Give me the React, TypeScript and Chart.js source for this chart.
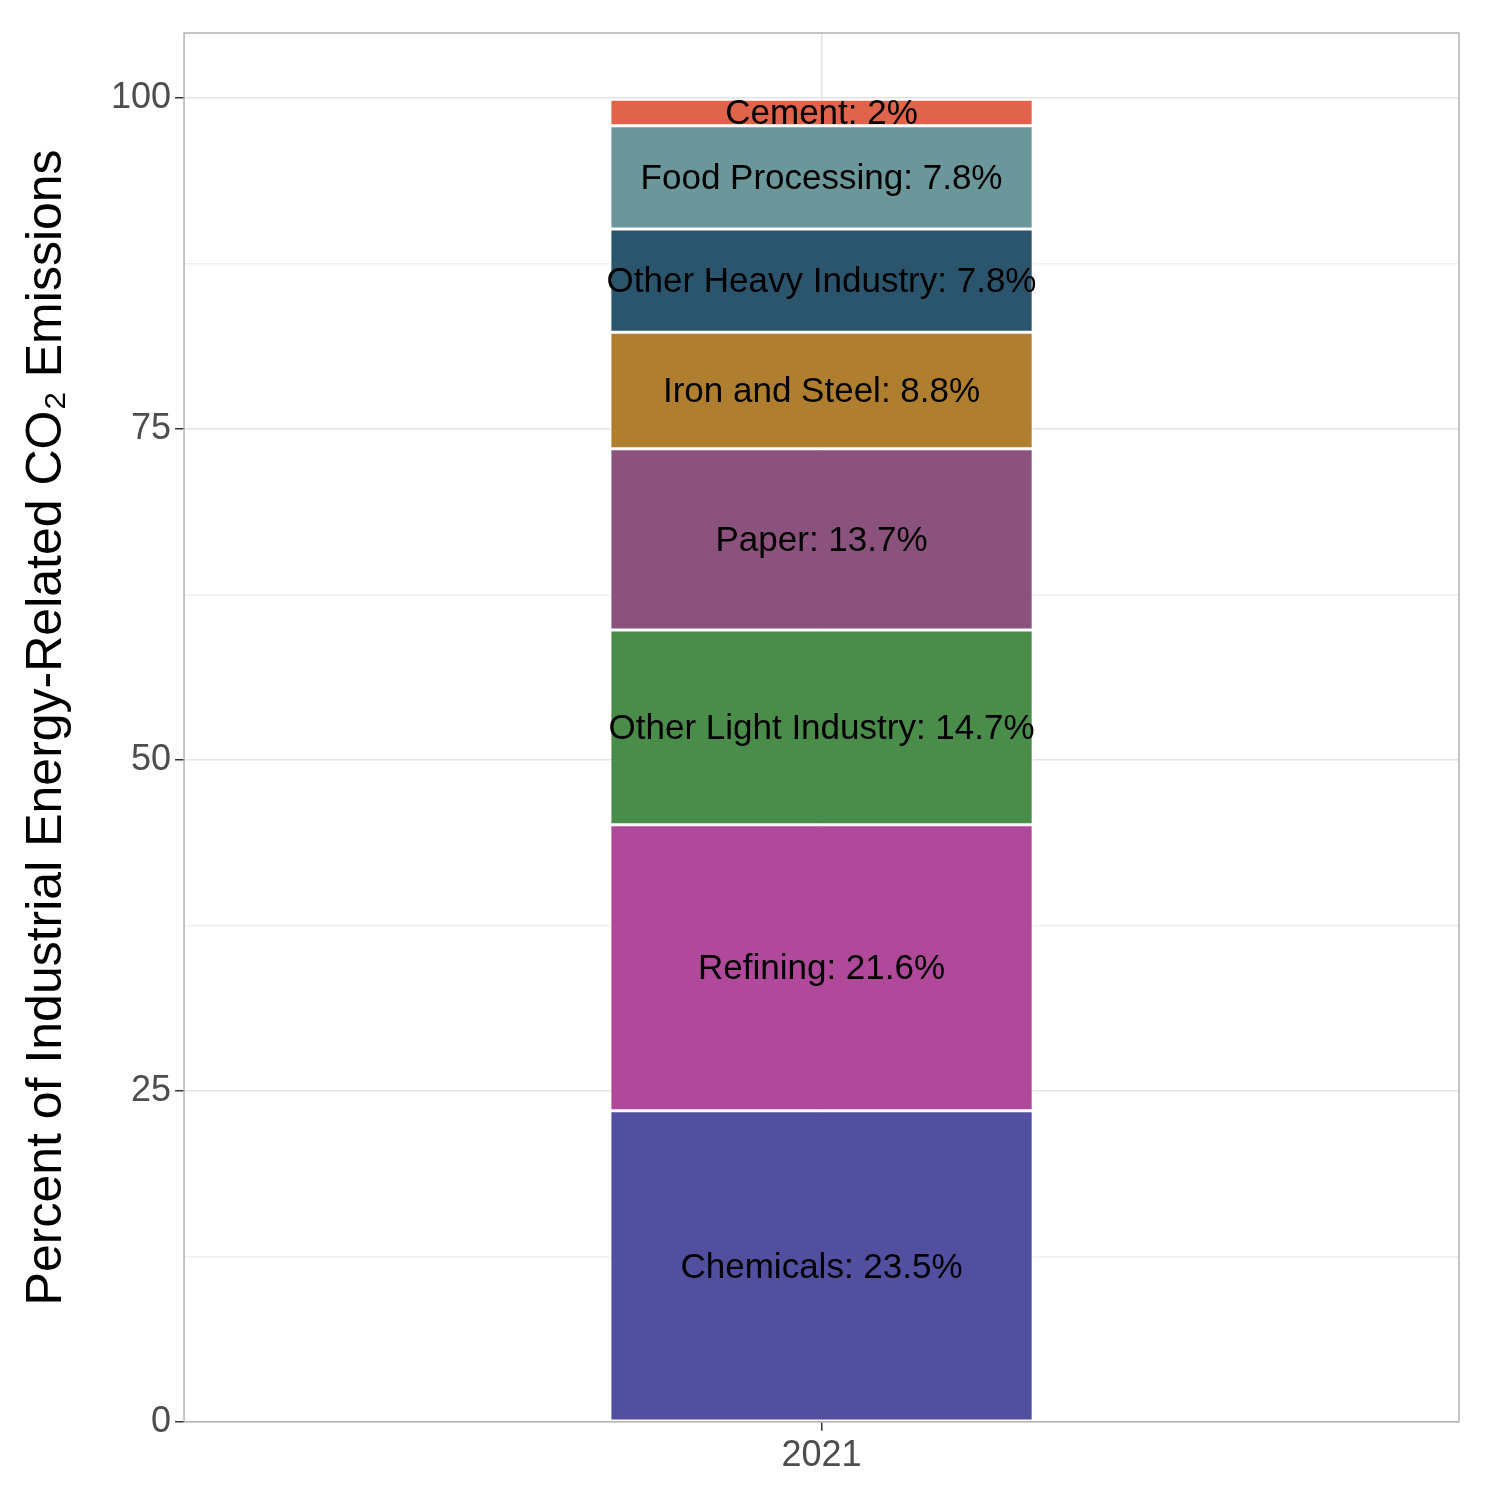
import React, { useEffect, useRef } from "react";
import { Chart, registerables } from "chart.js";
Chart.register(...registerables);

const categories = ["2021"];
const sectors = ["Chemicals", "Refining", "Other Light Industry", "Paper", "Iron and Steel", "Other Heavy Industry", "Food Processing", "Cement"];
const values = [23.5, 21.6, 14.7, 13.7, 8.8, 7.8, 7.8, 2];
const colors = ["#524FA1", "#B0499A", "#4A8C4A", "#8B527D", "#AF7F2F", "#2A556D", "#6B969A", "#E0644B"];
const yTicks = [0, 25, 50, 75, 100];

const FONT = "'Liberation Sans', Arial, sans-serif";

const labelPlugin = {
  id: "segLabels",
  afterDatasetsDraw(chart: any) {
    const ctx = chart.ctx;
    ctx.save();
    ctx.font = `35px ${FONT}`;
    ctx.fillStyle = "#000";
    ctx.textAlign = "center";
    ctx.textBaseline = "middle";
    chart.data.datasets.forEach((ds: any, i: number) => {
      const meta = chart.getDatasetMeta(i);
      meta.data.forEach((bar: any) => {
        const { x, y, base } = bar.getProps(["x", "y", "base"], true);
        ctx.fillText(`${ds.label}: ${ds.data[0]}%`, x, (y + base) / 2 + 2);
      });
    });
    ctx.restore();
  },
};

const borderPlugin = {
  id: "panelBorder",
  afterDraw(chart: any) {
    const { ctx, chartArea: a } = chart;
    ctx.save();
    ctx.strokeStyle = "#b3b3b3";
    ctx.lineWidth = 1.5;
    ctx.strokeRect(a.left, a.top, a.right - a.left, a.bottom - a.top);
    ctx.restore();
  },
};

export default function App() {
  const ref = useRef<HTMLCanvasElement>(null);
  useEffect(() => {
    document.body.style.margin = "0";
    const chart = new Chart(ref.current!, {
      type: "bar",
      data: {
        labels: categories,
        datasets: sectors.map((s, i) => ({
          label: s,
          data: [values[i]],
          backgroundColor: colors[i],
          borderColor: "#ffffff",
          borderWidth: 1.5,
          borderSkipped: false,
          barPercentage: 1,
          categoryPercentage: 0.332,
        })),
      },
      options: {
        animation: false,
        responsive: false,
        maintainAspectRatio: false,
        layout: { padding: { left: 17, right: 41, top: 33, bottom: 18 } },
        plugins: { legend: { display: false }, tooltip: { enabled: false } },
        scales: {
          x: {
            stacked: true,
            border: { display: false },
            grid: {
              offset: false,
              color: "#e3e3e3",
              lineWidth: 1.5,
              tickLength: 9,
              tickColor: "#333",
            },
            ticks: { color: "#4d4d4d", font: { family: FONT, size: 36 }, padding: 4 },
          },
          y: {
            stacked: true,
            min: 0,
            max: 104.9,
            border: { display: false },
            afterBuildTicks: (axis: any) => {
              const t: any[] = [];
              for (let v = 0; v <= 100; v += 12.5) t.push({ value: v });
              axis.ticks = t;
            },
            grid: {
              color: (c: any) => (yTicks.includes(c.tick?.value) ? "#e3e3e3" : "#f0f0f0"),
              lineWidth: 1.5,
              tickLength: 9,
              tickColor: (c: any) => (yTicks.includes(c.tick?.value) ? "#333" : "rgba(0,0,0,0)"),
            },
            ticks: {
              color: "#4d4d4d",
              font: { family: FONT, size: 36 },
              padding: 4,
              autoSkip: false,
              callback: (v: any) => (yTicks.includes(v) ? String(v) : ""),
            },
            title: {
              display: true,
              text: "Percent of Industrial Energy-Related CO₂ Emissions",
              color: "#000",
              font: { family: FONT, size: 50 },
              padding: { top: 0, bottom: 30 },
            },
          },
        },
      },
      plugins: [labelPlugin, borderPlugin],
    });
    return () => chart.destroy();
  }, []);
  return (
    <div style={{ width: 1500, height: 1500 }}>
      <canvas ref={ref} width={1500} height={1500} style={{ width: 1500, height: 1500 }} />
    </div>
  );
}
